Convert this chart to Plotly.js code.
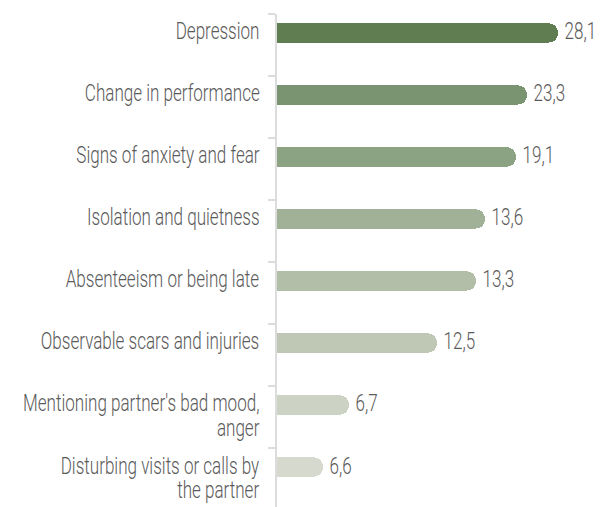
<!DOCTYPE html>
<html>
<head>
<meta charset="utf-8">
<script src="https://cdn.plot.ly/plotly-3.0.1.min.js"></script>
<style>html,body{margin:0;padding:0;background:#fff;}#chart{width:601px;height:507px;}</style>
</head>
<body>
<div id="chart"></div>
<script>
// Data
var categories = [
  "Depression",
  "Change in performance",
  "Signs of anxiety and fear",
  "Isolation and quietness",
  "Absenteeism or being late",
  "Observable scars and injuries",
  "Mentioning partner's bad mood,<br>anger",
  "Disturbing visits or calls by<br>the partner"
];
var valueLabels = ["28,1", "23,3", "19,1", "13,6", "13,3", "12,5", "6,7", "6,6"];
var barLengths = [28.1, 25.0, 23.9, 20.8, 19.9, 16.0, 7.2, 4.6];
var barColors = ["#5f7d50", "#7a9370", "#8ba382", "#a1b197", "#b3bea8", "#bfc8b4", "#cdd3c4", "#d6dace"];

var FONT = "Roboto, 'Liberation Sans', sans-serif";
var TXT = "#5a5a5a";

var idx = categories.map(function(_, i){ return i; });

var trace = {
  type: "bar",
  orientation: "h",
  x: barLengths,
  y: idx,
  width: 0.31,
  marker: {color: barColors, cornerradius: "50%", line: {width: 0}},
  hoverinfo: "none"
};

var annotations = [];
var roles = [];
var rows = [];
categories.forEach(function(c, i){
  annotations.push({
    xref: "paper", yref: "y", x: 0, y: i,
    xanchor: "right", yanchor: "middle", xshift: -16,
    text: c, showarrow: false, align: "right",
    font: {family: FONT, size: 24, weight: 300, color: TXT}
  });
  roles.push("label"); rows.push(i);
  annotations.push({
    xref: "x", yref: "y", x: barLengths[i], y: i,
    xanchor: "left", yanchor: "middle", xshift: 5,
    text: valueLabels[i], showarrow: false,
    font: {family: FONT, size: 24, weight: 300, color: TXT}
  });
  roles.push("value"); rows.push(i);
});

var tickPos = idx.concat([8]).map(function(i){ return i - 0.306; });

var layout = {
  width: 601, height: 507,
  margin: {l: 277, r: 24, t: 14, b: 0},
  paper_bgcolor: "#ffffff", plot_bgcolor: "#ffffff",
  showlegend: false,
  bargap: 0,
  xaxis: {range: [0, 30], visible: false, fixedrange: true},
  yaxis: {
    range: [7.645, -0.306],
    tickmode: "array", tickvals: tickPos, ticktext: tickPos.map(function(){ return ""; }),
    ticks: "outside", ticklen: 7, tickwidth: 2, tickcolor: "#dcdcdc",
    showline: true, linecolor: "#dcdcdc", linewidth: 2,
    showgrid: false, zeroline: false, showticklabels: false
  },
  annotations: annotations
};

var gd = document.getElementById("chart");
Plotly.newPlot(gd, [trace], layout, {displayModeBar: false, staticPlot: true}).then(function(){
  var fl = gd._fullLayout;
  var groups = gd.querySelectorAll("g.annotation");
  var svgRect = gd.querySelector("svg.main-svg").getBoundingClientRect();
  // condense the text horizontally to mimic the narrow typeface of the original
  var t0 = groups[0].querySelector("text").getComputedTextLength();
  var t1 = groups[2].querySelector("text").getComputedTextLength();
  var s = (82 + 177) / (t0 + t1);
  groups.forEach(function(g){
    var k = +g.getAttribute("data-index");
    var txt = g.querySelector("text");
    var lines = txt.querySelectorAll("tspan.line");
    if (lines.length > 1) {
      lines.forEach(function(ln, j){ ln.setAttribute("dy", (j * 1.04) + "em"); });
    }
    var gBox = g.getBBox();
    var tRect = (lines.length ? lines[0] : txt).getBoundingClientRect();
    var lineCenter = tRect.top - svgRect.top + tRect.height / 2;
    var target = fl._size.t + fl.yaxis.l2p(rows[k]) - 1.5;
    var dy = target - lineCenter;
    var px = roles[k] === "label" ? gBox.x + gBox.width : gBox.x;
    g.setAttribute("transform", "translate(0," + dy + ") translate(" + px + ",0) scale(" + s + ",1) translate(" + (-px) + ",0)");
  });
});
</script>
</body>
</html>
